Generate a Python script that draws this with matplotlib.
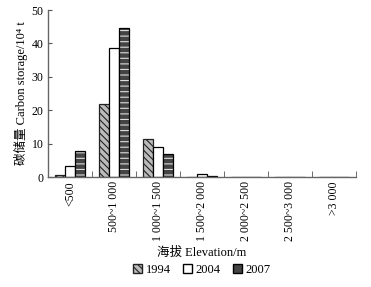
import matplotlib

matplotlib.use("Agg")
import matplotlib.pyplot as plt
import matplotlib.patches as mpatches
import numpy as np

categories = ["<500", "500~1 000", "1 000~1 500", "1 500~2 000",
              "2 000~2 500", "2 500~3 000", ">3 000"]
years = ["1994", "2004", "2007"]
v1994 = [0.5, 21.8, 11.5, 0.1, 0, 0, 0]
v2004 = [3.3, 38.5, 9.1, 0.9, 0, 0, 0]
v2007 = [7.8, 44.6, 6.9, 0.2, 0, 0, 0]

FONT = ["Liberation Serif", "Noto Sans CJK SC"]
plt.rcParams["font.family"] = FONT
plt.rcParams["font.size"] = 8.5
plt.rcParams["hatch.linewidth"] = 0.8

fig = plt.figure(figsize=(3.71, 2.87), dpi=100)
ax = fig.add_axes([0.129, 0.383, 0.831, 0.582])

x = np.arange(len(categories))
w = 0.23

ax.bar(x - w, v1994, w, facecolor="#bbbbbb", edgecolor="#222222", hatch="\\\\\\\\\\",
       linewidth=0.9)
ax.bar(x, v2004, w, facecolor="white", edgecolor="black", linewidth=0.9)
# 2007: dark fill with light horizontal stripes, outline drawn separately
ax.bar(x + w, v2007, w, facecolor="#444444", edgecolor="#dddddd", hatch="---",
       linewidth=0)
ax.bar(x + w, v2007, w, facecolor="none", edgecolor="black", linewidth=0.9)

ax.set_xlim(-0.5, len(categories) - 0.5)
ax.set_ylim(0, 50)
ax.set_yticks([0, 10, 20, 30, 40, 50])
ax.set_xticks(x)
ax.set_xticklabels(categories, rotation=90, va="top")
ax.set_xticks(np.arange(len(categories)) + 0.5, minor=True)
ax.tick_params(axis="x", which="major", length=0, pad=3)
ax.tick_params(axis="x", which="minor", direction="in", length=4, color="#555555")
ax.tick_params(axis="y", direction="in", length=3, color="#555555", pad=3)
for side in ("top", "right"):
    ax.spines[side].set_visible(False)
for side in ("left", "bottom"):
    ax.spines[side].set_color("#666666")
    ax.spines[side].set_linewidth(1.0)

ax.set_ylabel("碳储量 Carbon storage/10⁴ t", fontsize=9, labelpad=3)
ax.set_xlabel("海拔 Elevation/m", fontsize=9, labelpad=4)

handles = [
    mpatches.Patch(facecolor="#bbbbbb", edgecolor="#222222", hatch="\\\\\\\\\\", label=years[0]),
    mpatches.Patch(facecolor="white", edgecolor="black", label=years[1]),
    mpatches.Patch(facecolor="#444444", edgecolor="black", label=years[2]),
]
fig.legend(handles=handles, loc="center", bbox_to_anchor=(0.545, 0.06), ncol=3,
           frameon=False, handlelength=0.7, handleheight=0.7, handletextpad=0.3,
           columnspacing=1.0, fontsize=9)

fig.savefig("out.png", dpi=100)
